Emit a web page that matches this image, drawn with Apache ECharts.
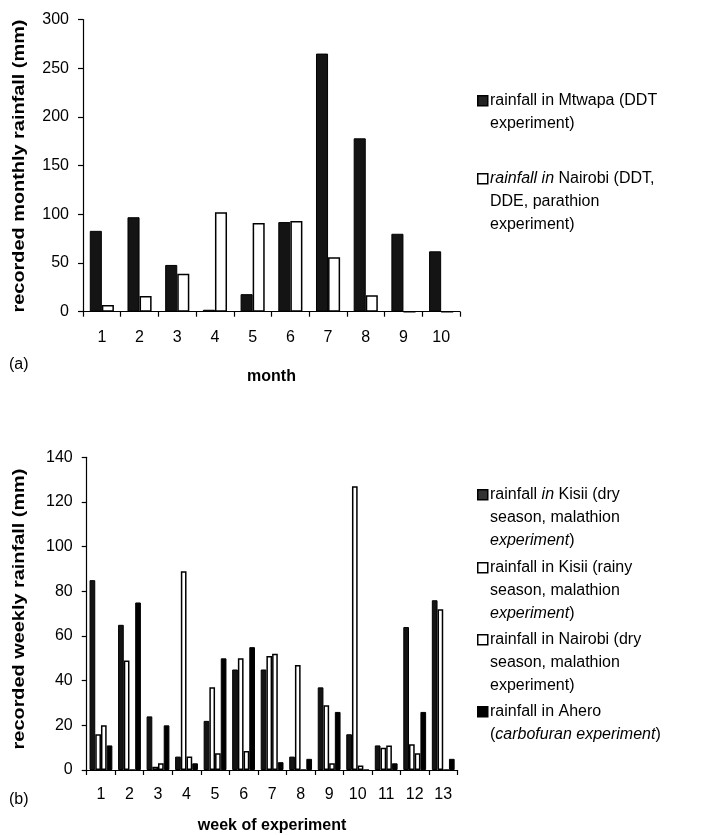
<!DOCTYPE html>
<html><head><meta charset="utf-8">
<script src="https://cdn.jsdelivr.net/npm/echarts@6/dist/echarts.min.js"></script>
<style>html,body{margin:0;padding:0;background:#fff}#c{width:705px;height:835px}</style>
</head><body><div id="c"></div>
<script>
// ---- data: panel (a) ----
const months = ['1','2','3','4','5','6','7','8','9','10'];
const rainMtwapa = [83, 97, 48, 2, 18, 92, 265, 178, 80, 62];
const rainNairobiMonthly = [7, 16, 39, 102, 91, 93, 56, 17, 0, 0];
const ticksA = [0, 300, 50];
// ---- data: panel (b) ----
const weeks = ['1','2','3','4','5','6','7','8','9','10','11','12','13'];
const rainKisiiDry = [85, 65, 24, 6, 22, 45, 45, 6, 37, 16, 11, 64, 76];
const rainKisiiRainy = [16, 49, 1.5, 89, 37, 50, 51, 47, 29, 127, 10, 11.5, 72];
const rainNairobiDry = [20, 0, 3, 6, 7.5, 8.5, 52, 0, 3, 2, 11, 7.5, 0];
const rainAhero = [11, 75, 20, 3, 50, 55, 3.5, 5, 26, 0, 3, 26, 5];
const ticksB = [0, 140, 20];
// ---- legend / axis texts ----
const legendA = [
  'rainfall in Mtwapa (DDT\nexperiment)',
  '{i|rainfall in} Nairobi (DDT,\nDDE, parathion\nexperiment)'
];
const legendB = [
  'rainfall {i|in} Kisii (dry\nseason, malathion\n{i|experiment})',
  'rainfall in Kisii (rainy\nseason, malathion\n{i|experiment})',
  'rainfall in Nairobi (dry\nseason, malathion\nexperiment)',
  'rainfall in Ahero\n({i|carbofuran experiment})'
];
const yTitleA = 'recorded monthly rainfall (mm)';
const yTitleB = 'recorded weekly rainfall (mm)';

const FF = '"Liberation Sans", Arial, Helvetica, sans-serif';
const FS = 16;
const chart = echarts.init(document.getElementById('c'), null, {renderer: 'canvas'});

function xAx(grid, data, name, margin, nameGap) {
  return {
    type: 'category', gridIndex: grid, data: data,
    axisLine: {show: true, lineStyle: {color: '#000', width: 1.2}},
    axisTick: {show: true, length: 5, alignWithLabel: false, lineStyle: {color: '#000', width: 1.2}},
    axisLabel: {color: '#000', fontSize: FS, fontFamily: FF, margin: margin},
    splitLine: {show: false},
    name: name, nameLocation: 'middle', nameGap: nameGap,
    nameTextStyle: {color: '#000', fontSize: FS, fontWeight: 'bold', fontFamily: FF}
  };
}
function yAx(grid, t) {
  return {
    type: 'value', gridIndex: grid, min: t[0], max: t[1], interval: t[2],
    axisLine: {show: true, lineStyle: {color: '#000', width: 1.2}},
    axisTick: {show: true, length: 5, lineStyle: {color: '#000', width: 1.2}},
    axisLabel: {color: '#000', fontSize: FS, fontFamily: FF, margin: 14},
    splitLine: {show: false}
  };
}
const blackStyle = {color: '#141414', borderColor: '#000', borderWidth: 1};
const pureBlack = {color: '#000', borderColor: '#000', borderWidth: 1};
const whiteStyle = {color: '#fff', borderColor: '#000', borderWidth: 1.5};

function legendGraphics(items, fills, x, ys) {
  const g = [];
  items.forEach((txt, k) => {
    g.push({type: 'rect', left: x, top: ys[k] - 5,
      shape: {width: 10, height: 10},
      style: {fill: fills[k], stroke: '#000', lineWidth: 1.5}});
    g.push({type: 'text', left: x + 13, top: ys[k] - 11,
      style: {text: txt, fill: '#000', fontSize: FS, fontFamily: FF, lineHeight: 23,
        rich: {i: {fontStyle: 'italic', fontSize: FS, fontFamily: FF, fill: '#000', lineHeight: 23}}}});
  });
  return g;
}
function yTitle(txt, cx, cy) {
  return {type: 'text', x: cx, y: cy, rotation: Math.PI / 2, scaleX: 1.17,
    style: {text: txt, fill: '#000', fontSize: 17, fontWeight: 'bold', fontFamily: FF,
      align: 'center', verticalAlign: 'middle'}};
}

const graphics = []
  .concat(legendGraphics(legendA, ['#222', '#fff'], 477, [100, 178]))
  .concat(legendGraphics(legendB, ['#333', '#fff', '#fff', '#000'], 477, [494, 567, 639, 711]))
  .concat([
    yTitle(yTitleA, 19, 166),
    yTitle(yTitleB, 19, 609),
    {type: 'text', left: 9, top: 357, style: {text: '(a)', fill: '#000', fontSize: FS, fontFamily: FF}},
    {type: 'text', left: 9, top: 792, style: {text: '(b)', fill: '#000', fontSize: FS, fontFamily: FF}}
  ]);

chart.setOption({
  animation: false,
  backgroundColor: '#fff',
  grid: [
    {left: 83, top: 19.5, width: 377, height: 292.2},
    {left: 86.7, top: 457.3, width: 370.8, height: 312.7}
  ],
  xAxis: [xAx(0, months, 'month', 18, 57), xAx(1, weeks, 'week of experiment', 17, 48)],
  yAxis: [yAx(0, ticksA), yAx(1, ticksB)],
  series: [
    {type: 'bar', name: 'rainfall in Mtwapa (DDT experiment)', xAxisIndex: 0, yAxisIndex: 0,
     data: rainMtwapa, itemStyle: blackStyle, barGap: '0%', barCategoryGap: '36%'},
    {type: 'bar', name: 'rainfall in Nairobi (DDT, DDE, parathion experiment)', xAxisIndex: 0, yAxisIndex: 0,
     data: rainNairobiMonthly, itemStyle: whiteStyle, barGap: '0%', barCategoryGap: '36%'},
    {type: 'bar', name: 'rainfall in Kisii (dry season, malathion experiment)', xAxisIndex: 1, yAxisIndex: 1,
     data: rainKisiiDry, itemStyle: blackStyle, barGap: '0%', barCategoryGap: '20%'},
    {type: 'bar', name: 'rainfall in Kisii (rainy season, malathion experiment)', xAxisIndex: 1, yAxisIndex: 1,
     data: rainKisiiRainy, itemStyle: whiteStyle, barGap: '0%', barCategoryGap: '20%'},
    {type: 'bar', name: 'rainfall in Nairobi (dry season, malathion experiment)', xAxisIndex: 1, yAxisIndex: 1,
     data: rainNairobiDry, itemStyle: whiteStyle, barGap: '0%', barCategoryGap: '20%'},
    {type: 'bar', name: 'rainfall in Ahero (carbofuran experiment)', xAxisIndex: 1, yAxisIndex: 1,
     data: rainAhero, itemStyle: pureBlack, barGap: '0%', barCategoryGap: '20%'}
  ],
  graphic: graphics
});
</script>
</body></html>
